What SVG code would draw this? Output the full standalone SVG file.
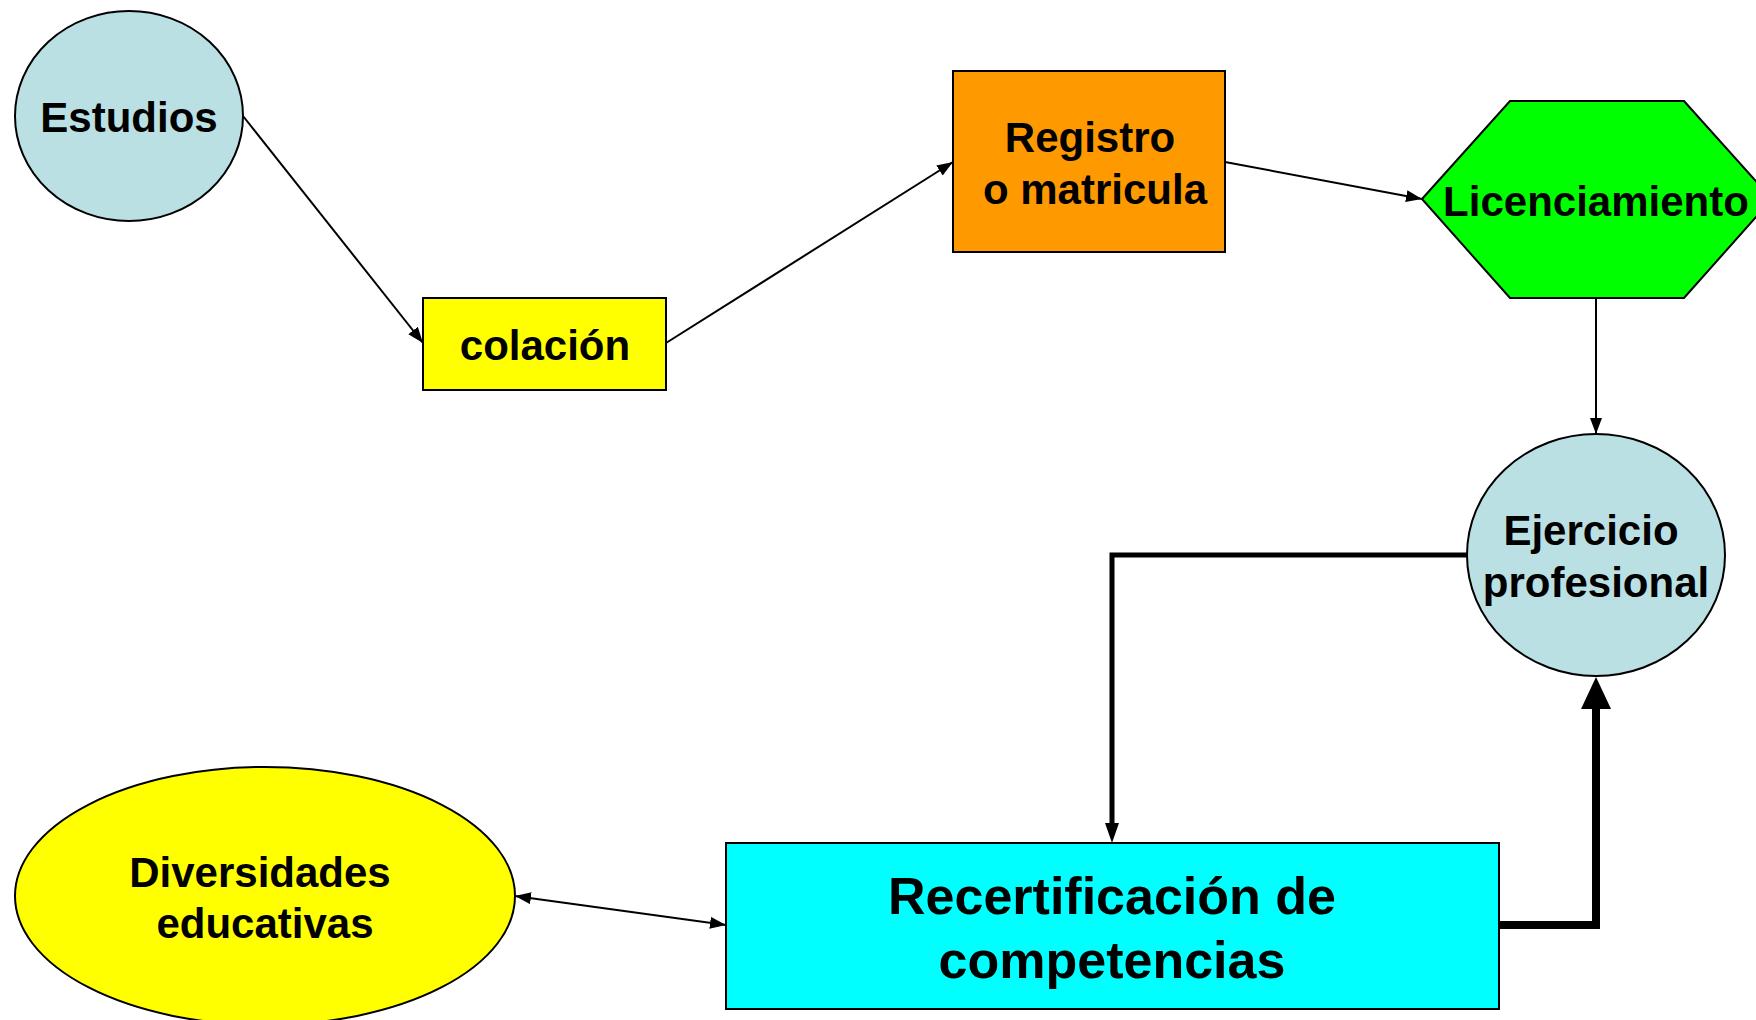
<svg xmlns="http://www.w3.org/2000/svg" width="1756" height="1020" viewBox="0 0 1756 1020">
<style>
.n{stroke:#000;stroke-width:2}
.t{font-family:"Liberation Sans",Arial,sans-serif;font-weight:bold;font-size:42px;text-anchor:middle;fill:#000}
.big{font-size:52px}
.c{fill:none;stroke:#000;stroke-width:2}
</style>
<defs>
<marker id="ah" markerUnits="userSpaceOnUse" markerWidth="18" markerHeight="14" refX="16" refY="6" orient="auto-start-reverse"><path d="M0,0 L16,6 L0,12 z" fill="#000"/></marker>
<marker id="ahm" markerUnits="userSpaceOnUse" markerWidth="22" markerHeight="16" refX="12" refY="7" orient="auto"><path d="M0,0 L20,7 L0,14 z" fill="#000"/></marker>
<marker id="ahl" markerUnits="userSpaceOnUse" markerWidth="32" markerHeight="32" refX="2" refY="15" orient="auto"><path d="M0,0 L32,15 L0,30 z" fill="#000"/></marker>
</defs>
<rect width="1756" height="1020" fill="#fff"/>
<g id="connectors">
<line class="c" x1="243" y1="116" x2="423" y2="343" marker-end="url(#ah)"/>
<line class="c" x1="666" y1="343" x2="953" y2="162" marker-end="url(#ah)"/>
<line class="c" x1="1225" y1="162" x2="1422" y2="199" marker-end="url(#ah)"/>
<line class="c" x1="1596" y1="298" x2="1596" y2="434" marker-end="url(#ah)"/>
<path class="c" style="stroke-width:5" d="M1467,555 H1112 V835" marker-end="url(#ahm)"/>
<path class="c" style="stroke-width:8" d="M1499,925 H1596 V707" marker-end="url(#ahl)"/>
<line class="c" x1="515" y1="896" x2="726" y2="925" marker-start="url(#ah)" marker-end="url(#ah)"/>
</g>
<g id="estudios">
<ellipse class="n" cx="129" cy="116" rx="114" ry="105" fill="#BBE0E3"/>
<text class="t" x="129" y="132">Estudios</text>
</g>
<g id="colacion">
<rect class="n" x="423" y="298" width="243" height="92" fill="#FFFF00"/>
<text class="t" x="545" y="360">colación</text>
</g>
<g id="registro">
<rect class="n" x="953" y="71" width="272" height="181" fill="#FF9900"/>
<text class="t" x="1090" y="152">Registro</text>
<text class="t" x="1095" y="204">o matricula</text>
</g>
<g id="licenciamiento">
<polygon class="n" points="1422,199 1510,101 1684,101 1772,199 1684,298 1510,298" fill="#00FF00"/>
<text class="t" x="1596" y="216">Licenciamiento</text>
</g>
<g id="ejercicio">
<ellipse class="n" cx="1596" cy="555" rx="129" ry="121" fill="#BBE0E3"/>
<text class="t" x="1591" y="545">Ejercicio</text>
<text class="t" x="1596" y="597">profesional</text>
</g>
<g id="diversidades">
<ellipse class="n" cx="265" cy="896" rx="250" ry="129" fill="#FFFF00"/>
<text class="t" x="260" y="887">Diversidades</text>
<text class="t" x="265" y="938">educativas</text>
</g>
<g id="recertificacion">
<rect class="n" x="726" y="843" width="773" height="166" fill="#00FFFF"/>
<text class="t big" x="1112" y="914">Recertificación de</text>
<text class="t big" x="1112" y="978">competencias</text>
</g>
</svg>
